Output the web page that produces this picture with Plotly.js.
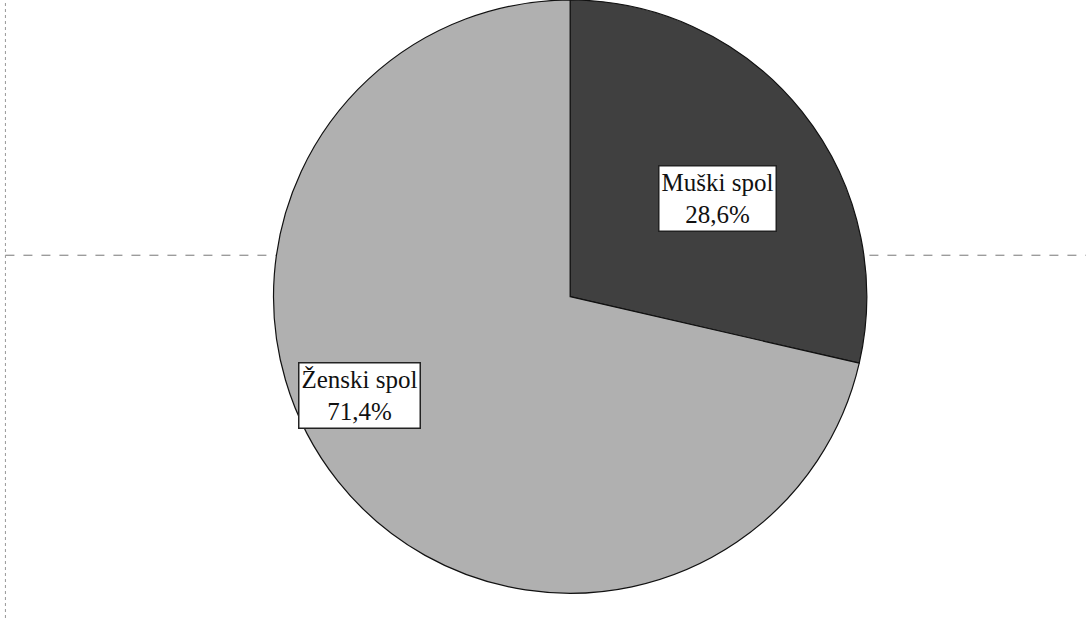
<!DOCTYPE html>
<html>
<head>
<meta charset="utf-8">
<script src="https://cdn.plot.ly/plotly-3.0.1.min.js"></script>
<style>html,body{margin:0;padding:0;background:#fff;}#chart{width:1086px;height:618px;}</style>
</head>
<body>
<div id="chart"></div>
<script>
const categories = ["Muški spol", "Ženski spol"];
const values = [28.6, 71.4];
const percentLabels = ["28,6%", "71,4%"];
const sliceColors = ["#404040", "#b0b0b0"];

const trace = {
  type: "pie",
  labels: categories,
  values: values,
  sort: false,
  direction: "clockwise",
  rotation: 0,
  textinfo: "none",
  hoverinfo: "label+percent",
  marker: { colors: sliceColors, line: { color: "#111", width: 1.2 } },
  domain: { x: [0.245, 0.805], y: [0.04, 1.0] },
  showlegend: false
};

const labelPos = [[0.661, 0.678], [0.331, 0.36]];
const annotations = categories.map((c, i) => ({
  xref: "paper", yref: "paper",
  x: labelPos[i][0], y: labelPos[i][1],
  xanchor: "center", yanchor: "middle",
  text: c + "<br>" + percentLabels[i],
  showarrow: false,
  font: { family: "Liberation Serif, Times New Roman, serif", size: 25, color: "#111" },
  bgcolor: "#ffffff",
  bordercolor: "#222",
  borderwidth: 1.5,
  borderpad: 2,
  align: "center"
}));

const layout = {
  width: 1086, height: 618,
  margin: { l: 0, r: 0, t: 0, b: 0 },
  paper_bgcolor: "#ffffff",
  plot_bgcolor: "#ffffff",
  annotations: annotations,
  shapes: [
    { type: "line", xref: "paper", yref: "paper", x0: 0.005, x1: 1, y0: 0.587, y1: 0.587,
      line: { color: "#777", width: 1, dash: "dash" }, layer: "below" },
    { type: "line", xref: "paper", yref: "paper", x0: 0.005, x1: 0.005, y0: 0, y1: 1,
      line: { color: "#999", width: 1, dash: "dot" }, layer: "below" }
  ]
};

Plotly.newPlot("chart", [trace], layout, { displayModeBar: false, staticPlot: true });
</script>
</body>
</html>
